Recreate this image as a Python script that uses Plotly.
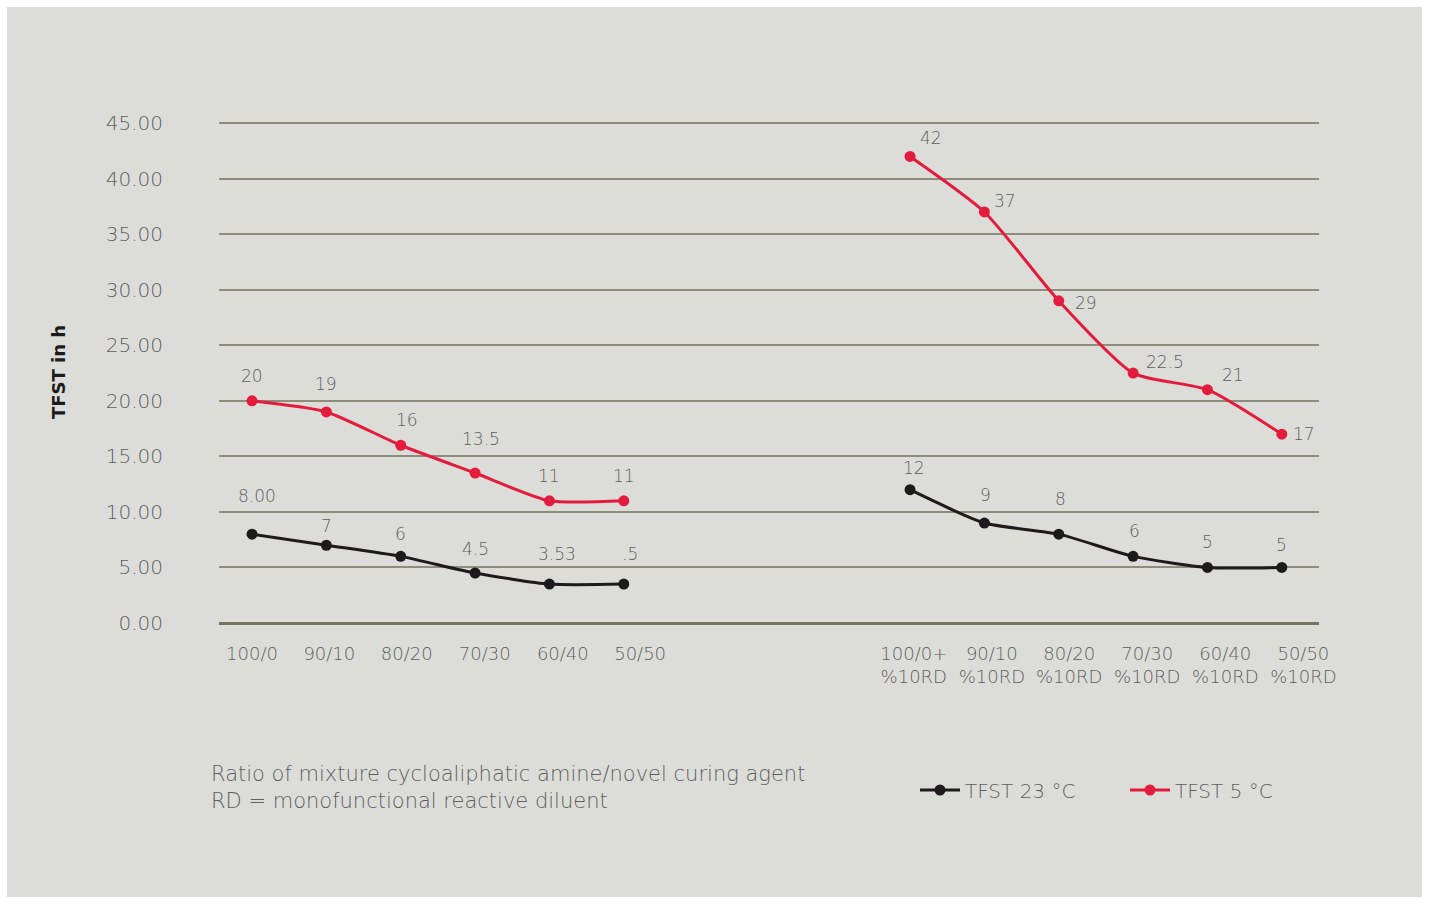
import plotly.graph_objects as go

# ---------------- data ----------------
cats_a = ["100/0", "90/10", "80/20", "70/30", "60/40", "50/50"]
cats_b = ["100/0+<br>%10RD", "90/10<br>%10RD", "80/20<br>%10RD",
          "70/30<br>%10RD", "60/40<br>%10RD", "50/50<br>%10RD"]
pos_a = [0, 1, 2, 3, 4, 5]
pos_b = [8.85, 9.85, 10.85, 11.85, 12.85, 13.85]

t23_a = [8, 7, 6, 4.5, 3.5, 3.5]
t23_b = [12, 9, 8, 6, 5, 5]
t5_a = [20, 19, 16, 13.5, 11, 11]
t5_b = [42, 37, 29, 22.5, 21, 17]

lbl23_a = ["8.00", "7", "6", "4.5", "3.53", ".5"]
lbl23_b = ["12", "9", "8", "6", "5", "5"]
lbl5_a = ["20", "19", "16", "13.5", "11", "11"]
lbl5_b = ["42", "37", "29", "22.5", "21", "17"]

y_ticks = [0, 5, 10, 15, 20, 25, 30, 35, 40, 45]

# ---------------- style / layout ----------------
tickpos_a = [0, 1.04, 2.08, 3.13, 4.18, 5.22]
tickpos_b = [8.9, 9.95, 10.99, 12.04, 13.09, 14.14]

BG = "#dcddd8"
BLACK = "#1e1a1b"
RED = "#e31b3c"
GRID = "#8e8d7c"
TXT = "#5e5e5e"
FONT = "DejaVu Sans"
WT = 200

W, H = 1430, 904
L, R, T, B = 219, 111, 122, 281
PW, PH = W - L - R, H - T - B

def px_x(p):
    return (p - L) / PW

def px_y(p):
    return (T + PH - p) / PH

fig = go.Figure()

def add_series(xs, ys, color, name, show):
    fig.add_trace(go.Scatter(
        x=xs, y=ys, mode="lines+markers", name=name, showlegend=show,
        legendgroup=name,
        line=dict(color=color, width=3, shape="spline", smoothing=0.6),
        marker=dict(color=color, size=11),
        hoverinfo="x+y"))

add_series(pos_a, t23_a, BLACK, "TFST 23 °C", True)
add_series(pos_b, t23_b, BLACK, "TFST 23 °C", False)
add_series(pos_a, t5_a, RED, "TFST 5 °C", True)
add_series(pos_b, t5_b, RED, "TFST 5 °C", False)

# label offsets (pixels): (xshift, yshift)
off23_a = [(5, 38), (0, 19), (0, 22), (0, 24), (8, 30), (6, 30)]
off23_b = [(4, 22), (1, 28), (2, 35), (1, 25), (0, 25), (0, 22)]
off5_a = [(0, 25), (0, 28), (6, 25), (6, 34), (0, 25), (0, 25)]
off5_b = [(21, 18), (21, 11), (27, -2), (32, 11), (26, 15), (22, 0)]

def add_labels(xs, ys, labels, offs):
    for x, y, t, (dx, dy) in zip(xs, ys, labels, offs):
        fig.add_annotation(x=x, y=y, text=t, showarrow=False,
                           xshift=dx, yshift=dy,
                           font=dict(family=FONT, size=17, color=TXT, weight=WT))

add_labels(pos_a, t23_a, lbl23_a, off23_a)
add_labels(pos_b, t23_b, lbl23_b, off23_b)
add_labels(pos_a, t5_a, lbl5_a, off5_a)
add_labels(pos_b, t5_b, lbl5_b, off5_b)

# footnote text
fig.add_annotation(xref="paper", yref="paper",
                   x=px_x(209), y=px_y(787),
                   xanchor="left", yanchor="middle", align="left",
                   showarrow=False,
                   text="Ratio of mixture cycloaliphatic amine/novel curing agent<br>RD = monofunctional reactive diluent",
                   font=dict(family=FONT, size=21, color=TXT, weight=WT))

# y-axis title
fig.add_annotation(xref="paper", yref="paper",
                   x=px_x(58), y=px_y(372), textangle=-90,
                   xanchor="center", yanchor="middle", showarrow=False,
                   text="<b>TFST in h</b>",
                   font=dict(family=FONT, size=18, color=BLACK))

# background panel
fig.add_shape(type="rect", xref="paper", yref="paper", layer="below",
              x0=px_x(7), x1=px_x(1422), y0=px_y(897), y1=px_y(7),
              fillcolor=BG, line=dict(width=0))

fig.update_layout(
    width=W, height=H,
    margin=dict(l=L, r=R, t=T, b=B, autoexpand=False),
    paper_bgcolor="white", plot_bgcolor=BG,
    font=dict(family=FONT, color=TXT),
    xaxis=dict(range=[-0.444, 14.35], tickmode="array",
               tickvals=tickpos_a + tickpos_b, ticktext=cats_a + cats_b,
               showgrid=False, zeroline=False, showline=False,
               ticks="", ticklabelstandoff=18,
               tickfont=dict(family=FONT, size=18, color=TXT, weight=WT),
               fixedrange=True),
    yaxis=dict(range=[0, 45.1], tickmode="array", tickvals=y_ticks,
               ticktext=[f"{v:.2f}" for v in y_ticks],
               showgrid=True, gridcolor=GRID, gridwidth=1.5,
               zeroline=True, zerolinecolor="#75745f", zerolinewidth=3,
               showline=False, ticks="", ticklabelstandoff=55,
               tickfont=dict(family=FONT, size=20, color=TXT, weight=WT),
               fixedrange=True),
    legend=dict(orientation="h", x=px_x(915), y=px_y(790),
                xanchor="left", yanchor="middle",
                bgcolor="rgba(0,0,0,0)",
                font=dict(family=FONT, size=20, color=TXT, weight=WT),
                itemwidth=40, entrywidth=155),
    showlegend=True,
)

fig.write_html("out.html")
